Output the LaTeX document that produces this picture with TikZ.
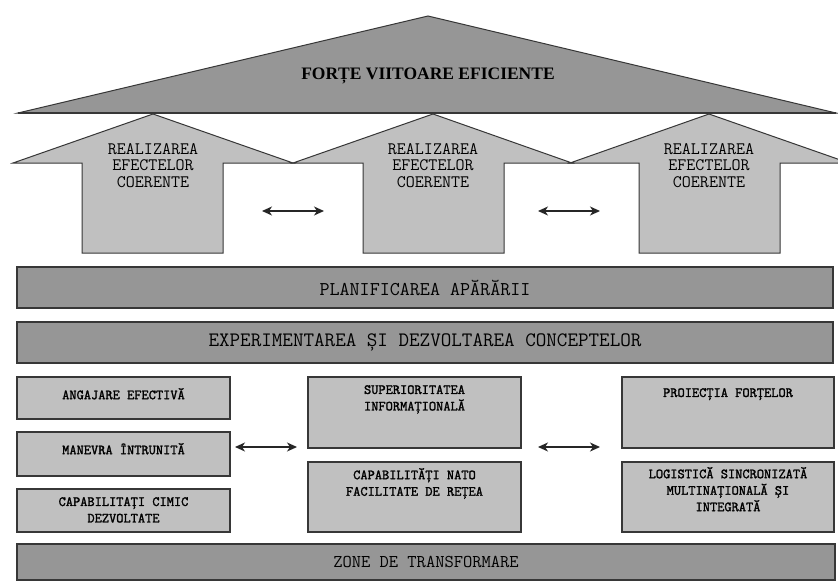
\documentclass[tikz,border=0pt]{standalone}
\usepackage{fontspec}
\setmainfont{Liberation Serif}
\newfontfamily\monof{Latin Modern Mono}
\newfontfamily\monob[FakeBold=1.8]{Latin Modern Mono}
\usetikzlibrary{arrows.meta}
\definecolor{darkfill}{RGB}{150,150,150}
\definecolor{lightfill}{RGB}{192,192,192}
\definecolor{edgecol}{RGB}{55,55,55}
\tikzset{
  band/.style={draw=edgecol, line width=1.2pt, fill=darkfill, inner sep=0pt},
  sbox/.style={draw=edgecol, line width=1.2pt, fill=lightfill, inner sep=0pt},
  bigarrow/.style={draw=edgecol, line width=1pt, fill=lightfill},
  roof/.style={draw=edgecol, line width=1pt, fill=darkfill},
  bandtext/.style={font=\monof\fontsize{19.5}{20}\selectfont, inner sep=0pt},
  arrtext/.style={font=\monof\fontsize{17.5}{16.5}\selectfont, align=center, inner sep=0pt, anchor=north},
  smalltext/.style={font=\monob\fontsize{14}{16.5}\selectfont, align=center, inner sep=0pt, anchor=north},
  dbl/.style={{Stealth[length=10pt,width=9pt,inset=3pt]}-{Stealth[length=10pt,width=9pt,inset=3pt]}, line width=1.3pt, draw=black!85}
}
\begin{document}
\begin{tikzpicture}[x=1pt,y=-1pt]
\useasboundingbox (0,0) rectangle (838,581);
\clip (0,0) rectangle (838,581);
\fill[white] (0,0) rectangle (838,581);

% roof
\draw[roof] (18,113) -- (428,16) -- (836,113) -- cycle;
\draw[edgecol, line width=1.8pt] (18,113) -- (836,113);
\node[font=\bfseries\fontsize{17.5}{19}\selectfont, inner sep=0pt] (roof) at (428,76) {FORȚE VIITOARE EFICIENTE};

% three arrows
\draw[bigarrow] (82,253) -- (82,163) -- (13,163) -- (153,114) -- (293,163) -- (223,163) -- (223,253) -- cycle;
\draw[bigarrow] (363,253) -- (363,163) -- (293,163) -- (433,114) -- (572,163) -- (504,163) -- (504,253) -- cycle;
\draw[bigarrow] (639,253) -- (639,163) -- (570,163) -- (709,114) -- (849,163) -- (780,163) -- (780,253) -- cycle;
\node[arrtext] (a1) at (153,143) {REALIZAREA\\EFECTELOR\\COERENTE};
\node[arrtext] (a2) at (433,143) {REALIZAREA\\EFECTELOR\\COERENTE};
\node[arrtext] (a3) at (709,143) {REALIZAREA\\EFECTELOR\\COERENTE};

\coordinate (t1a) at (262,211); \coordinate (t1b) at (324,211);
\coordinate (t2a) at (538,211); \coordinate (t2b) at (600,211);
\draw[dbl] (t1a) -- (t1b);
\draw[dbl] (t2a) -- (t2b);

% bands
\node[band, minimum width=816pt, minimum height=41pt] (plan) at (425,287.5) {};
\node[bandtext] at (plan.center) {PLANIFICAREA APĂRĂRII};
\node[band, minimum width=816pt, minimum height=41pt] (exp) at (425,342.5) {};
\node[bandtext, font=\monof\fontsize{20.5}{21}\selectfont] at (exp.center) {EXPERIMENTAREA ȘI DEZVOLTAREA CONCEPTELOR};
\node[band, minimum width=818pt, minimum height=36pt] (zone) at (426,562) {};
\node[bandtext, font=\monof\fontsize{18}{19}\selectfont] at (zone.center) {ZONE DE TRANSFORMARE};

% left column
\node[sbox, minimum width=213pt, minimum height=42pt] (l1) at (123.5,398) {};
\node[sbox, minimum width=213pt, minimum height=44pt] (l2) at (123.5,454) {};
\node[sbox, minimum width=213pt, minimum height=43pt] (l3) at (123.5,510.5) {};
\node[smalltext] at (123.5,388) {ANGAJARE EFECTIVĂ};
\node[smalltext] at (123.5,443) {MANEVRA ÎNTRUNITĂ};
\node[smalltext] at (123.5,497) {CAPABILITAȚI CIMIC\\DEZVOLTATE};

% middle column
\node[sbox, minimum width=213pt, minimum height=71pt] (m1) at (414.5,412.5) {};
\node[sbox, minimum width=213pt, minimum height=70pt] (m2) at (414.5,497) {};
\node[smalltext] at (414.5,385) {SUPERIORITATEA\\INFORMAȚIONALĂ};
\node[smalltext] at (414.5,468) {CAPABILITĂȚI NATO\\FACILITATE DE REȚEA};

% right column
\node[sbox, minimum width=212pt, minimum height=71pt] (r1) at (728,412.5) {};
\node[sbox, minimum width=212pt, minimum height=70pt] (r2) at (728,497) {};
\node[smalltext] at (728,388) {PROIECȚIA FORȚELOR};
\node[smalltext] at (728,467) {LOGISTICĂ SINCRONIZATĂ\\MULTINAȚIONALĂ ȘI\\INTEGRATĂ};

\coordinate (b1a) at (235,447); \coordinate (b1b) at (297,447);
\coordinate (b2a) at (538,447); \coordinate (b2b) at (600,447);
\draw[dbl] (b1a) -- (b1b);
\draw[dbl] (b2a) -- (b2b);
\end{tikzpicture}
\end{document}
